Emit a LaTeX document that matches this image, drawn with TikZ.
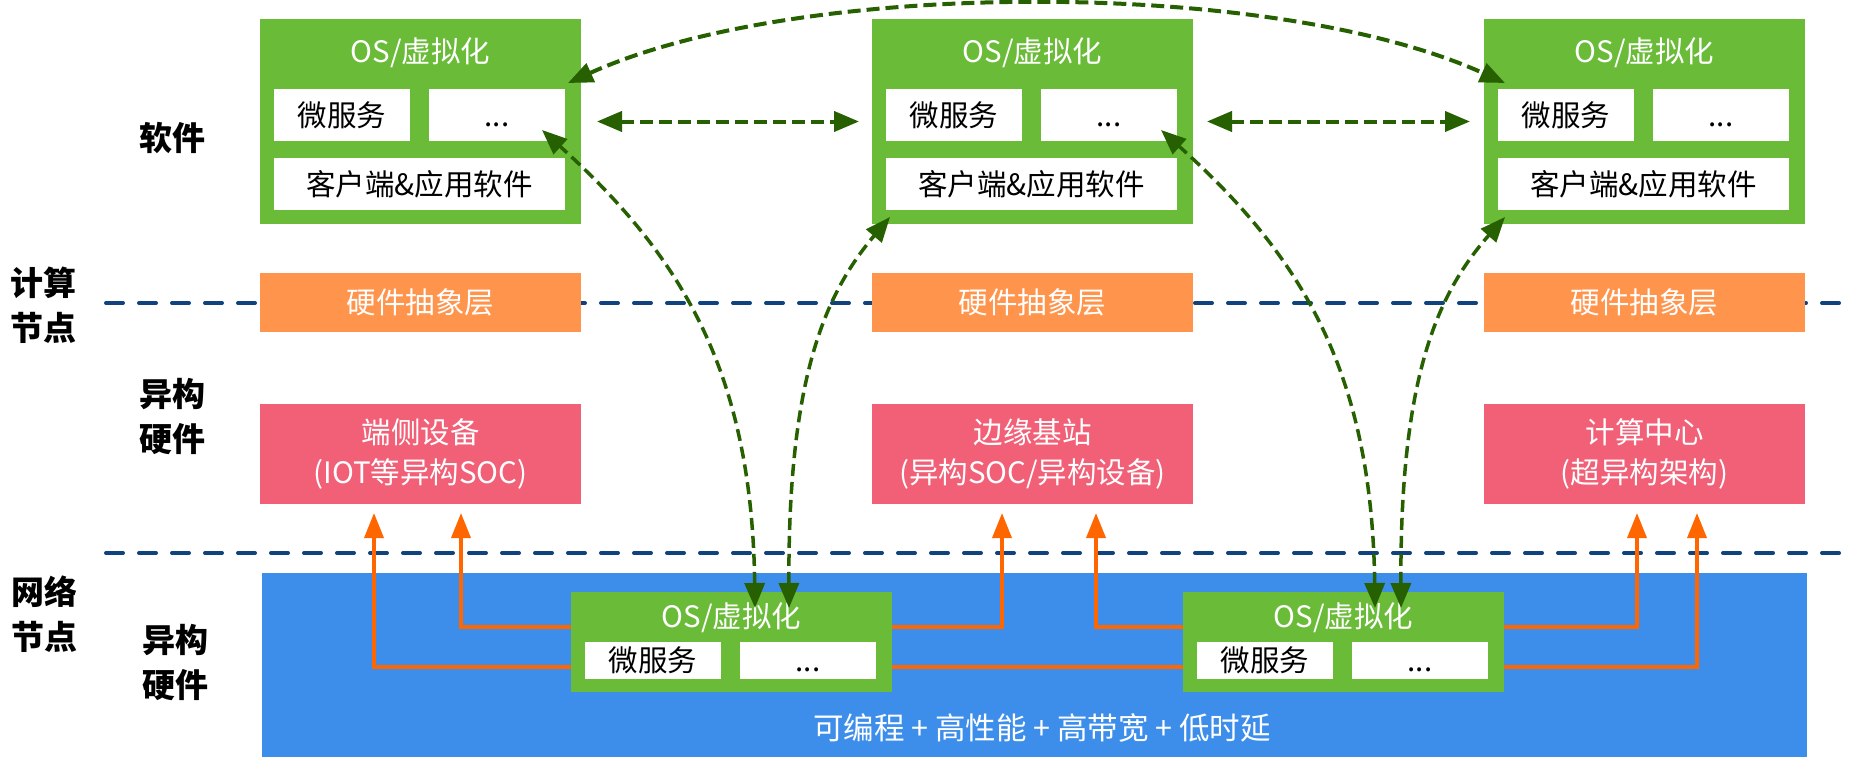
\documentclass[tikz,border=0pt]{standalone}
\usepackage{fontspec}
\setmainfont{Noto Sans CJK SC}
\usetikzlibrary{arrows.meta,calc}
\definecolor{cgreen}{HTML}{6ABB38}
\definecolor{corange}{HTML}{FF944C}
\definecolor{cpink}{HTML}{F16077}
\definecolor{cblue}{HTML}{3D8EEB}
\definecolor{cnavy}{HTML}{10427E}
\definecolor{cline}{HTML}{FF6600}
\definecolor{cdgreen}{HTML}{266000}
\newcommand\bxfont{\fontsize{29.5}{40}\selectfont}
\newcommand\lbfont{\fontsize{33}{45}\selectfont\bfseries}
\newcommand\dotstxt{\vphantom{微}...}
\begin{document}
\begin{tikzpicture}[x=1pt,y=-1pt,
  box/.style={inner sep=0pt, outer sep=0pt, anchor=north west, draw=none},
  gbox/.style={box, fill=cgreen, minimum width=321pt},
  wbox/.style={box, fill=white, text=black, font=\bxfont},
  obox/.style={box, fill=corange, text=white, font=\bxfont, minimum width=321pt, minimum height=59pt},
  pbox/.style={box, fill=cpink, text=white, font=\bxfont, align=center, minimum width=321pt, minimum height=100pt},
  wtext/.style={inner sep=0pt, text=white, font=\bxfont},
  lbl/.style={inner sep=0pt, text=black, font=\lbfont, align=center},
  navyline/.style={draw=cnavy, line width=4pt, dash pattern=on 17pt off 16pt, line cap=round},
  oline/.style={draw=cline, line width=3.5pt},
  oarrow/.style={oline, -{Triangle[length=25pt,width=19pt]}},
  garrow/.style={draw=cdgreen, line width=4pt, dash pattern=on 13pt off 6pt,
     {Triangle[length=25pt,width=20pt]}-{Triangle[length=25pt,width=20pt]}},
  gcurve/.style={garrow, line width=3.5pt, dash pattern=on 12pt off 6pt},
]
\useasboundingbox (0,0) rectangle (1852,760);
\fill[white] (0,0) rectangle (1852,760);

% separators
\coordinate (s1a) at (106,303);
\coordinate (s1b) at (1852,303);
\coordinate (s2a) at (106,553);
\coordinate (s2b) at (1852,553);
\draw[navyline] (s1a) -- (s1b);
\draw[navyline] (s2a) -- (s2b);

% side labels
\node[lbl] (lsw) at (172,138) {软件};
\node[lbl] (ljs) at (43,305) {计算\\节点};
\node[lbl] (lyg1) at (172,416) {异构\\硬件};
\node[lbl] (lwl) at (44,614) {网络\\节点};
\node[lbl] (lyg2) at (175,662) {异构\\硬件};

% blue network box
\node[box, fill=cblue, minimum width=1545pt, minimum height=184pt] (bl) at (262,573) {};
\node[wtext, font=\fontsize{30.5}{40}\selectfont] (blt) at (1042,728) {可编程 + 高性能 + 高带宽 + 低时延};

% top software boxes
\foreach \i/\x in {1/260,2/872,3/1484}{
  \node[gbox, minimum height=205pt] (g\i) at (\x,19) {};
  \node[wtext] (g\i t) at ($(g\i.north)+(0,34)$) {OS/虚拟化};
  \node[wbox, minimum width=136pt, minimum height=52pt] (g\i a) at ($(g\i.north west)+(14,70)$) {微服务};
  \node[wbox, minimum width=136pt, minimum height=52pt] (g\i b) at ($(g\i.north west)+(169,70)$) {\dotstxt};
  \node[wbox, minimum width=291pt, minimum height=52pt] (g\i c) at ($(g\i.north west)+(14,139)$) {客户端\&应用软件};
  \node[obox] (o\i) at (\x,273) {硬件抽象层};
}
\node[pbox] (p1) at (260,404) {端侧设备\\(IOT等异构SOC)};
\node[pbox] (p2) at (872,404) {边缘基站\\(异构SOC/异构设备)};
\node[pbox] (p3) at (1484,404) {计算中心\\(超异构架构)};

% lower network-node boxes
\foreach \i/\x in {1/571,2/1183}{
  \node[gbox, minimum height=100pt] (lb\i) at (\x,592) {};
  \node[wtext] (lb\i t) at ($(lb\i.north)+(0,26)$) {OS/虚拟化};
  \node[wbox, minimum width=136pt, minimum height=37pt] (lb\i a) at ($(lb\i.north west)+(14,50)$) {微服务};
  \node[wbox, minimum width=136pt, minimum height=37pt] (lb\i b) at ($(lb\i.north west)+(169,50)$) {\dotstxt};
}

% orange connectors
\draw[oarrow] ($(lb1.north west)+(0,35)$) -| ($(p1.south west)+(201,9)$);
\draw[oarrow] ($(lb1.north west)+(0,75)$) -| ($(p1.south west)+(114,9)$);
\draw[oarrow] ($(lb1.north east)+(0,35)$) -| ($(p2.south west)+(130,9)$);
\draw[oarrow] ($(lb2.north west)+(0,35)$) -| ($(p2.south west)+(224,9)$);
\draw[oline] ($(lb1.north east)+(0,75)$) -- ($(lb2.north west)+(0,75)$);
\draw[oarrow] ($(lb2.north east)+(0,35)$) -| ($(p3.south west)+(153,9)$);
\draw[oarrow] ($(lb2.north east)+(0,75)$) -| ($(p3.south west)+(213,9)$);

% green dashed connectors
\draw[garrow, shorten <=16pt, shorten >=13pt] (g1.east) -- (g2.west);
\draw[garrow, shorten <=14pt, shorten >=14pt] (g2.east) -- (g3.west);
\draw[garrow] ($(g1.north east)+(-13,64)$) .. controls (800,-22) and (1273,-22) .. ($(g3.north west)+(21,64)$);
\draw[gcurve] ($(lb1.north west)+(184,16)$) .. controls (752,370) and (680,255) .. ($(g1b.south east)+(-23,-11)$);
\draw[gcurve] ($(lb1.north west)+(218,16)$) .. controls (788,380) and (824,295) .. ($(g2.south west)+(18,-7)$);
\draw[gcurve] ($(lb2.north west)+(192,16)$) .. controls (1372,370) and (1300,255) .. ($(g2b.south east)+(-16,-11)$);
\draw[gcurve] ($(lb2.north west)+(218,16)$) .. controls (1400,380) and (1436,295) .. ($(g3.south west)+(21,-7)$);
\end{tikzpicture}
\end{document}
